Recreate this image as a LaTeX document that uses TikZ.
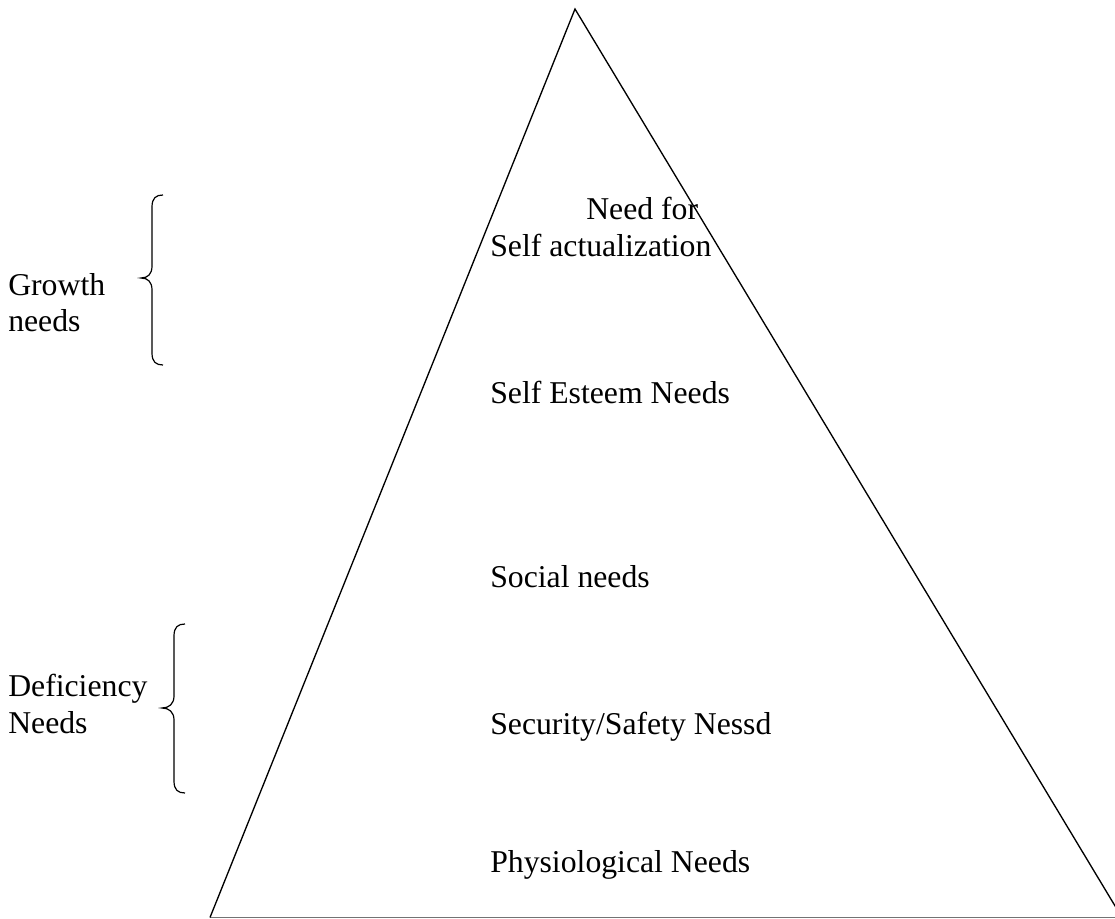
\documentclass[tikz,border=0pt]{standalone}
\usepackage{fontspec}
\setmainfont{Liberation Serif}
\tikzset{
  lbl/.style={anchor=base west, inner sep=0pt, font=\fontsize{23.8}{28}\selectfont},
  edge/.style={line width=1pt, black},
  baseedge/.style={line width=0.9pt, black!55},
  brace/.style={line width=0.9pt, black}
}
\begin{document}
\begin{tikzpicture}[x=0.75pt,y=-0.75pt]
\useasboundingbox (0,0) rectangle (1115,919);
\begin{scope}
\clip (0,0) rectangle (1115,919);
\coordinate (apex) at (575,9);
\coordinate (bl) at (210,917.5);
\coordinate (br) at (1122,917.5);
\draw[baseedge] (bl) -- (br);
\draw[edge] (bl) -- (apex) -- (br);
\end{scope}
% labels in pyramid
\node[lbl] (n1) at (586,220) {Need for};
\node[lbl] (n2) at (490,257) {Self actualization};
\node[lbl] (n3) at (490,404) {Self Esteem Needs};
\node[lbl] (n4) at (490,588) {Social needs};
\node[lbl] (n5) at (490,735) {Security/Safety Nessd};
\node[lbl] (n6) at (490,873) {Physiological Needs};
% side labels
\node[lbl] (g1) at (8,296) {Growth};
\node[lbl] (g2) at (8,332) {needs};
\node[lbl] (d1) at (8,697) {Deficiency};
\node[lbl] (d2) at (8,734) {Needs};
% braces
\draw[brace] (163,195) .. controls (156,195) and (152,198) .. (152,207) -- (152,266)
  .. controls (152,274) and (148,278) .. (141,278)
  .. controls (148,278) and (152,282) .. (152,290) -- (152,353)
  .. controls (152,362) and (156,365) .. (163,365);
\draw[brace] (185,624) .. controls (178,624) and (174,627) .. (174,636) -- (174,696)
  .. controls (174,704) and (169,708) .. (162,708)
  .. controls (169,708) and (174,712) .. (174,720) -- (174,781)
  .. controls (174,790) and (178,793) .. (185,793);
\end{tikzpicture}
\end{document}
